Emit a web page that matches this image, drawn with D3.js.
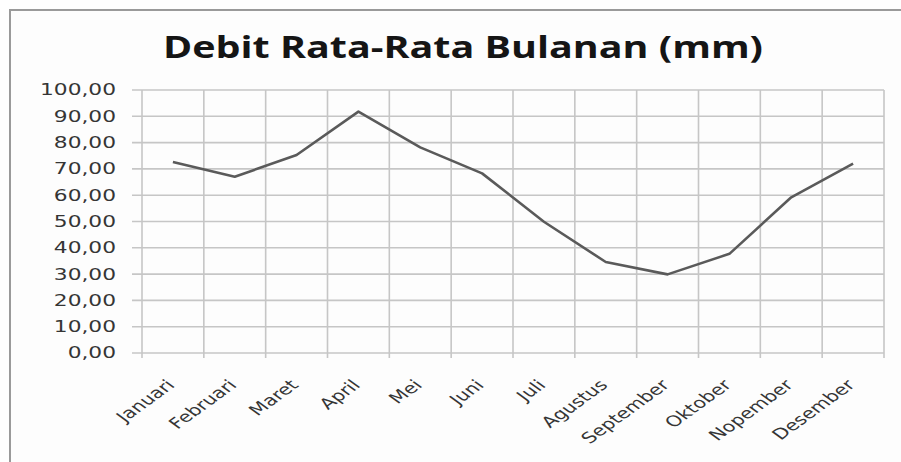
<!DOCTYPE html>
<html>
<head>
<meta charset="utf-8">
<script src="https://cdn.jsdelivr.net/npm/d3@7"></script>
<style>
    body { margin: 0; background: #ffffff; }
    .grid line { stroke: #c6c6c6; stroke-width: 1.6; }
    .chart-line { fill: none; stroke: #5a5a5a; stroke-width: 2.6; stroke-linejoin: round; }
    .axis-label { font-family: "DejaVu Sans", sans-serif; fill: #353535; }
</style>
</head>
<body>
<svg id="chart"></svg>
<script>
// Chart data.
const months = ['Januari', 'Februari', 'Maret', 'April', 'Mei', 'Juni', 'Juli',
    'Agustus', 'September', 'Oktober', 'Nopember', 'Desember'];
const debit = [72.6, 67.0, 75.3, 91.8, 78.2, 68.3, 49.9, 34.6, 29.9, 37.7, 59.2, 72.0];
const yTicks = [0, 10, 20, 30, 40, 50, 60, 70, 80, 90, 100];
const chartTitle = 'Debit Rata-Rata Bulanan (mm)';

class LineChart {

    /**
     * Class constructor for the line chart.
     * @param {Object} _config - Configuration object.
     */
    constructor(_config) {
        this.config = {
            parentElement: _config.parentElement,
            width: _config.width || 901,
            height: _config.height || 462,
            margin: _config.margin || { top: 90, right: 17, bottom: 109, left: 142 },
            stretch: 1.38 // the reference text is stretched horizontally
        };
        this.initVis();
    }

    initVis() {
        let vis = this;
        const cfg = vis.config;

        vis.innerWidth = cfg.width - cfg.margin.left - cfg.margin.right;
        vis.innerHeight = cfg.height - cfg.margin.top - cfg.margin.bottom;

        vis.svg = d3.select(cfg.parentElement)
            .attr('width', cfg.width)
            .attr('height', cfg.height);

        // Chart frame, right and bottom edges fall outside the picture.
        vis.svg.append('rect')
            .attr('x', 10)
            .attr('y', 10)
            .attr('width', cfg.width + 20)
            .attr('height', cfg.height + 20)
            .attr('fill', '#fdfdfd')
            .attr('stroke', '#9a9a9a')
            .attr('stroke-width', 2);

        vis.svg.append('text')
            .attr('x', 463)
            .attr('y', 58)
            .attr('text-anchor', 'middle')
            .attr('textLength', 600)
            .attr('lengthAdjust', 'spacingAndGlyphs')
            .style('font-family', '"Open Sans", sans-serif')
            .style('font-weight', 'bold')
            .style('font-size', '30px')
            .style('fill', '#151515')
            .text(chartTitle);

        vis.chart = vis.svg.append('g')
            .attr('transform', `translate(${cfg.margin.left},${cfg.margin.top})`);

        // Scales.
        vis.xScale = d3.scaleBand().domain(months).range([0, vis.innerWidth]);
        vis.yScale = d3.scaleLinear().domain([0, 100]).range([vis.innerHeight, 0]);

        vis.gridG = vis.chart.append('g').attr('class', 'grid');
        vis.linePath = vis.chart.append('path').attr('class', 'chart-line');
        vis.yLabelG = vis.chart.append('g');
        vis.xLabelG = vis.chart.append('g');

        vis.line = d3.line()
            .x((d, i) => vis.xScale(months[i]) + vis.xScale.bandwidth() / 2)
            .y(d => vis.yScale(d));

        vis.renderVis();
    }

    renderVis() {
        let vis = this;
        const sx = vis.config.stretch;
        const edges = months.map(m => vis.xScale(m)).concat([vis.innerWidth]);

        // Horizontal gridlines, with tick stubs on the left.
        vis.gridG.selectAll('.h-grid')
            .data(yTicks)
            .join('line')
            .attr('class', 'h-grid')
            .attr('x1', -10)
            .attr('x2', vis.innerWidth)
            .attr('y1', d => vis.yScale(d))
            .attr('y2', d => vis.yScale(d));

        // Vertical gridlines at category edges, with tick stubs below.
        vis.gridG.selectAll('.v-grid')
            .data(edges)
            .join('line')
            .attr('class', 'v-grid')
            .attr('x1', d => d)
            .attr('x2', d => d)
            .attr('y1', 0)
            .attr('y2', vis.innerHeight + 5);

        vis.linePath
            .datum(debit)
            .attr('d', vis.line);

        // Y tick labels, Indonesian decimal comma.
        vis.yLabelG.selectAll('text')
            .data(yTicks)
            .join('text')
            .attr('class', 'axis-label')
            .attr('transform', d => `translate(-26,${vis.yScale(d)}) scale(${sx * 1.05},1)`)
            .attr('text-anchor', 'end')
            .attr('dy', '0.36em')
            .style('font-size', '15px')
            .text(d => d.toFixed(2).replace('.', ','));

        // Rotated month labels.
        vis.xLabelG.selectAll('text')
            .data(months)
            .join('text')
            .attr('class', 'axis-label')
            .attr('transform', d => `translate(${vis.xScale(d) + vis.xScale.bandwidth() / 2 + 3},${vis.innerHeight + 33}) scale(${sx},1) rotate(-45)`)
            .attr('text-anchor', 'end')
            .style('font-size', '15px')
            .text(d => d);
    }
}

const chart = new LineChart({ parentElement: '#chart' });
</script>
</body>
</html>
